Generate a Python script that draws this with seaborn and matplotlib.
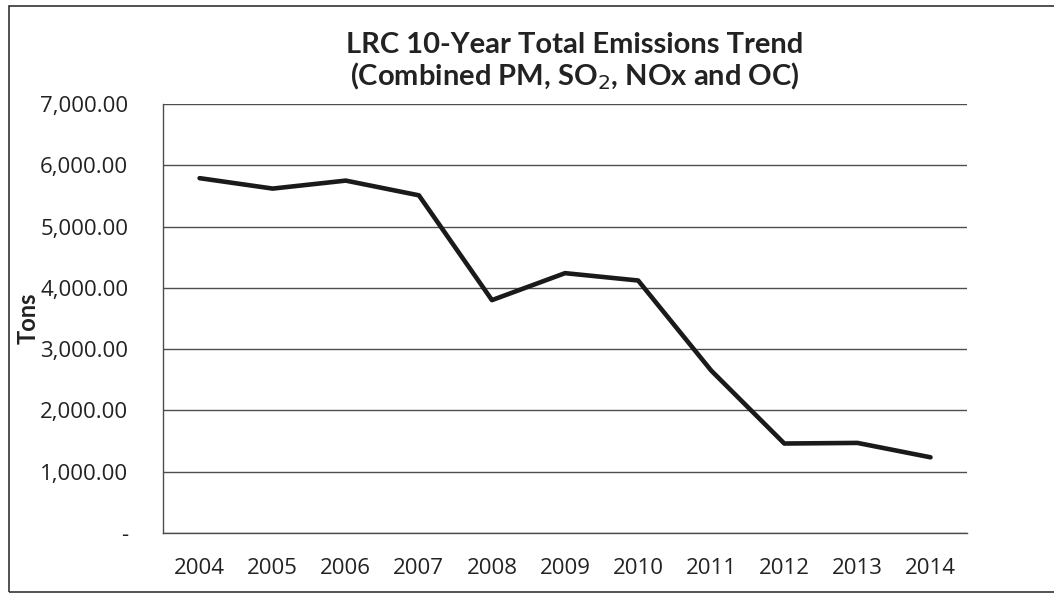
import matplotlib
matplotlib.use("Agg")
import matplotlib.pyplot as plt
import seaborn as sns
import pandas as pd
from matplotlib.ticker import FuncFormatter, FixedLocator
from matplotlib.patches import Rectangle

years = ["2004", "2005", "2006", "2007", "2008", "2009", "2010", "2011", "2012", "2013", "2014"]
tons = [5790, 5620, 5750, 5510, 3800, 4240, 4120, 2650, 1460, 1470, 1235]
y_ticks = [0, 1000, 2000, 3000, 4000, 5000, 6000, 7000]

df = pd.DataFrame({"year": years, "tons": tons})

sns.set_style("white")
plt.rcParams["font.family"] = ["Open Sans", "DejaVu Sans"]

fig = plt.figure(figsize=(10.54, 5.94), dpi=100)
ax = fig.add_axes([0.1547, 0.1027, 0.9175 - 0.1547, 0.8249 - 0.1027])

sns.lineplot(x="year", y="tons", data=df, ax=ax, color="#1a1a1a", linewidth=3.3)

ax.set_xlim(-0.5, 10.5)
ax.set_ylim(0, 7000)
ax.set_yticks(y_ticks)
ax.yaxis.set_major_formatter(FuncFormatter(lambda v, p: "-" if v == 0 else f"{v:,.2f}"))
ax.grid(axis="y", color="#4d4d4d", linewidth=1.0)
ax.grid(axis="x", visible=False)

# category boundaries get the tick marks, labels sit in between
ax.xaxis.set_minor_locator(FixedLocator([i - 0.5 for i in range(len(years) + 1)]))
ax.tick_params(axis="x", which="major", length=0, pad=18, labelsize=16, colors="#222222")
ax.tick_params(axis="x", which="minor", length=7, width=1, color="#4d4d4d", direction="out")
ax.tick_params(axis="y", which="major", length=8, width=1, color="#4d4d4d", direction="out",
               pad=17, labelsize=16, labelcolor="#222222")

for s in ["top", "right"]:
    ax.spines[s].set_visible(False)
for s in ["left", "bottom"]:
    ax.spines[s].set_color("#4d4d4d")
    ax.spines[s].set_linewidth(1.0)

ax.set_xlabel("")
ax.set_ylabel("Tons", fontsize=17, fontweight="bold", color="#222222", family=["Lato", "DejaVu Sans"])
ax.yaxis.set_label_coords(-0.153, 0.5)

title_font = dict(ha="center", va="baseline", fontsize=21, fontweight="bold", color="#222222",
                  family=["Lato", "DejaVu Sans"])
fig.text(0.545, 0.910, "LRC 10-Year Total Emissions Trend", **title_font)
fig.text(0.545, 0.857, "(Combined PM, SO$_2$, NOx and OC)", **title_font)

# scanned chart frame
fig.patches.append(Rectangle((9 / 1054, 2 / 594), 1.1, 586 / 594, transform=fig.transFigure,
                             fill=False, edgecolor="#333333", linewidth=1.2))

fig.savefig("out.png", dpi=100)
